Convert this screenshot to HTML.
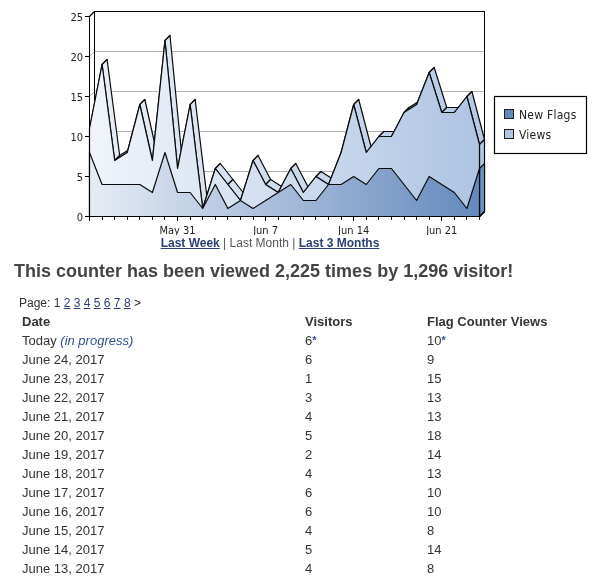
<!DOCTYPE html>
<html><head><meta charset="utf-8"><title>Flag Counter</title>
<style>
html,body{margin:0;padding:0;background:#fff;}
body{width:609px;height:576px;overflow:hidden;position:relative;font-family:"Liberation Sans",Arial,sans-serif;color:#333;}
a{color:#2b3f73;}
.links{position:absolute;left:0;top:236px;width:540px;text-align:center;font-size:12px;line-height:14px;color:#555;white-space:nowrap;}
.links a{font-weight:bold;text-decoration:underline;}
h2{position:absolute;left:14px;top:261px;margin:0;font-size:18px;line-height:20px;font-weight:bold;color:#444;white-space:nowrap;}
.pages{position:absolute;left:19px;top:296px;font-size:12px;line-height:14px;color:#333;white-space:nowrap;}
.row{position:absolute;left:0;width:609px;height:19px;font-size:13px;line-height:19px;color:#333;white-space:nowrap;}
.row span{position:absolute;top:0;}
.row.hd{font-weight:bold;}
.c1{left:22px}.c2{left:305px}.c3{left:427px}
.row i{color:#33508f;}
sup{font-size:11px;font-weight:bold;line-height:0;vertical-align:1px;color:#2f4d8f;}
</style></head><body>
<svg width="609" height="235" viewBox="0 0 609 235" style="position:absolute;left:0;top:0">
<defs>
<linearGradient id="gv" gradientUnits="userSpaceOnUse" x1="89" y1="0" x2="480" y2="0"><stop offset="0" stop-color="#f1f5fb"/><stop offset="1" stop-color="#aec4e3"/></linearGradient>
<linearGradient id="gf" gradientUnits="userSpaceOnUse" x1="89" y1="0" x2="480" y2="0"><stop offset="0" stop-color="#e6ecf5"/><stop offset="1" stop-color="#6489bd"/></linearGradient>
<linearGradient id="gvt" gradientUnits="userSpaceOnUse" x1="89" y1="0" x2="480" y2="0"><stop offset="0" stop-color="#e9eff8"/><stop offset="1" stop-color="#b4c9e6"/></linearGradient>
</defs>
<g fill="none" stroke="#b4b4b4" stroke-width="1">
<path d="M89.5 176.5 l5 -5 H484.5"/>
<path d="M89.5 136.5 l5 -5 H484.5"/>
<path d="M89.5 96.5 l5 -5 H484.5"/>
<path d="M89.5 56.5 l5 -5 H484.5"/>
</g>
<path d="M94 11.5 H484.5 V211.5 M94.5 11.5 V211.5" fill="none" stroke="#000" stroke-width="1" shape-rendering="crispEdges"/>
<path d="M89.5 16.5 l5 -5" fill="none" stroke="#000" stroke-width="1.2"/>
<g stroke="#0a0a0a" stroke-width="1.2" stroke-linejoin="round">
<path d="M89.5 128.5 L102.08 64.5 L107.08 59.5 L94.5 123.5Z" fill="url(#gvt)"/>
<path d="M102.08 64.5 L114.66 160.5 L119.66 155.5 L107.08 59.5Z" fill="url(#gvt)"/>
<path d="M114.66 160.5 L127.24 152.5 L132.24 147.5 L119.66 155.5Z" fill="url(#gvt)"/>
<path d="M127.24 152.5 L139.82 104.5 L144.82 99.5 L132.24 147.5Z" fill="url(#gvt)"/>
<path d="M139.82 104.5 L152.4 160.5 L157.4 155.5 L144.82 99.5Z" fill="url(#gvt)"/>
<path d="M152.4 160.5 L164.98 40.5 L169.98 35.5 L157.4 155.5Z" fill="url(#gvt)"/>
<path d="M164.98 40.5 L177.56 168.5 L182.56 163.5 L169.98 35.5Z" fill="url(#gvt)"/>
<path d="M177.56 168.5 L190.15 104.5 L195.15 99.5 L182.56 163.5Z" fill="url(#gvt)"/>
<path d="M190.15 104.5 L202.73 208.5 L207.73 203.5 L195.15 99.5Z" fill="url(#gvt)"/>
<path d="M202.73 208.5 L215.31 168.5 L220.31 163.5 L207.73 203.5Z" fill="url(#gvt)"/>
<path d="M215.31 168.5 L227.89 184.5 L232.89 179.5 L220.31 163.5Z" fill="url(#gvt)"/>
<path d="M227.89 184.5 L240.47 200.5 L245.47 195.5 L232.89 179.5Z" fill="url(#gvt)"/>
<path d="M240.47 200.5 L253.05 160.5 L258.05 155.5 L245.47 195.5Z" fill="url(#gvt)"/>
<path d="M253.05 160.5 L265.63 184.5 L270.63 179.5 L258.05 155.5Z" fill="url(#gvt)"/>
<path d="M265.63 184.5 L278.21 192.5 L283.21 187.5 L270.63 179.5Z" fill="url(#gvt)"/>
<path d="M278.21 192.5 L290.79 168.5 L295.79 163.5 L283.21 187.5Z" fill="url(#gvt)"/>
<path d="M290.79 168.5 L303.37 192.5 L308.37 187.5 L295.79 163.5Z" fill="url(#gvt)"/>
<path d="M303.37 192.5 L315.95 176.5 L320.95 171.5 L308.37 187.5Z" fill="url(#gvt)"/>
<path d="M315.95 176.5 L328.53 184.5 L333.53 179.5 L320.95 171.5Z" fill="url(#gvt)"/>
<path d="M328.53 184.5 L341.11 152.5 L346.11 147.5 L333.53 179.5Z" fill="url(#gvt)"/>
<path d="M341.11 152.5 L353.69 104.5 L358.69 99.5 L346.11 147.5Z" fill="url(#gvt)"/>
<path d="M353.69 104.5 L366.27 152.5 L371.27 147.5 L358.69 99.5Z" fill="url(#gvt)"/>
<path d="M366.27 152.5 L378.85 136.5 L383.85 131.5 L371.27 147.5Z" fill="url(#gvt)"/>
<path d="M378.85 136.5 L391.44 136.5 L396.44 131.5 L383.85 131.5Z" fill="url(#gvt)"/>
<path d="M391.44 136.5 L404.02 112.5 L409.02 107.5 L396.44 131.5Z" fill="url(#gvt)"/>
<path d="M404.02 112.5 L416.6 104.5 L421.6 99.5 L409.02 107.5Z" fill="url(#gvt)"/>
<path d="M416.6 104.5 L429.18 72.5 L434.18 67.5 L421.6 99.5Z" fill="url(#gvt)"/>
<path d="M429.18 72.5 L441.76 112.5 L446.76 107.5 L434.18 67.5Z" fill="url(#gvt)"/>
<path d="M441.76 112.5 L454.34 112.5 L459.34 107.5 L446.76 107.5Z" fill="url(#gvt)"/>
<path d="M454.34 112.5 L466.92 96.5 L471.92 91.5 L459.34 107.5Z" fill="url(#gvt)"/>
<path d="M466.92 96.5 L479.5 144.5 L484.5 139.5 L471.92 91.5Z" fill="url(#gvt)"/>
<path d="M479.5 216.5 L479.5 144.5 L484.5 139.5 L484.5 211.5Z" fill="#b4c9e6"/>
<path d="M479.5 216.5 L479.5 168.5 L484.5 163.5 L484.5 211.5Z" fill="#6f92c4"/>
<path d="M89.5 216.5 L89.5 128.5 L102.08 64.5 L114.66 160.5 L127.24 152.5 L139.82 104.5 L152.4 160.5 L164.98 40.5 L177.56 168.5 L190.15 104.5 L202.73 208.5 L215.31 168.5 L227.89 184.5 L240.47 200.5 L253.05 160.5 L265.63 184.5 L278.21 192.5 L290.79 168.5 L303.37 192.5 L315.95 176.5 L328.53 184.5 L341.11 152.5 L353.69 104.5 L366.27 152.5 L378.85 136.5 L391.44 136.5 L404.02 112.5 L416.6 104.5 L429.18 72.5 L441.76 112.5 L454.34 112.5 L466.92 96.5 L479.5 144.5 L479.5 216.5Z" fill="url(#gv)"/>
<path d="M89.5 216.5 L89.5 152.5 L102.08 184.5 L114.66 184.5 L127.24 184.5 L139.82 184.5 L152.4 192.5 L164.98 152.5 L177.56 192.5 L190.15 192.5 L202.73 208.5 L215.31 184.5 L227.89 208.5 L240.47 200.5 L253.05 208.5 L265.63 200.5 L278.21 192.5 L290.79 184.5 L303.37 200.5 L315.95 200.5 L328.53 184.5 L341.11 184.5 L353.69 176.5 L366.27 184.5 L378.85 168.5 L391.44 168.5 L404.02 184.5 L416.6 200.5 L429.18 176.5 L441.76 184.5 L454.34 192.5 L466.92 208.5 L479.5 168.5 L479.5 216.5Z" fill="url(#gf)"/>
</g>
<g stroke="#000" stroke-width="1" fill="none" shape-rendering="crispEdges">
<path d="M89.5 16 V221"/>
<path d="M85 216.5 H480"/>
<path d="M85 176.5 H89.5"/>
<path d="M85 136.5 H89.5"/>
<path d="M85 96.5 H89.5"/>
<path d="M85 56.5 H89.5"/>
<path d="M85 16.5 H89.5"/>
<path d="M102.5 216.5 v3.5M114.5 216.5 v3.5M127.5 216.5 v3.5M139.5 216.5 v3.5M152.5 216.5 v3.5M164.5 216.5 v3.5M177.5 216.5 v4.5M190.5 216.5 v3.5M202.5 216.5 v3.5M215.5 216.5 v3.5M227.5 216.5 v3.5M240.5 216.5 v3.5M253.5 216.5 v3.5M265.5 216.5 v4.5M278.5 216.5 v3.5M290.5 216.5 v3.5M303.5 216.5 v3.5M315.5 216.5 v3.5M328.5 216.5 v3.5M341.5 216.5 v3.5M353.5 216.5 v4.5M366.5 216.5 v3.5M378.5 216.5 v3.5M391.5 216.5 v3.5M404.5 216.5 v3.5M416.5 216.5 v3.5M429.5 216.5 v3.5M441.5 216.5 v4.5M454.5 216.5 v3.5M466.5 216.5 v3.5M479.5 216.5 v3.5"/>
</g>
<path d="M479.5 216.5 l5 -5" stroke="#000" stroke-width="1.2" fill="none"/>
<g font-family="'DejaVu Sans Condensed','DejaVu Sans',sans-serif" font-size="11" fill="#222">
<text x="83" y="220.5" text-anchor="end">0</text>
<text x="83" y="180.5" text-anchor="end">5</text>
<text x="83" y="140.5" text-anchor="end">10</text>
<text x="83" y="100.5" text-anchor="end">15</text>
<text x="83" y="60.5" text-anchor="end">20</text>
<text x="83" y="20.5" text-anchor="end">25</text>
<text x="177.56" y="234" text-anchor="middle">May 31</text>
<text x="265.63" y="234" text-anchor="middle">Jun 7</text>
<text x="353.69" y="234" text-anchor="middle">Jun 14</text>
<text x="441.76" y="234" text-anchor="middle">Jun 21</text>
</g>
<rect x="494.5" y="96.5" width="92" height="57" fill="#fff" stroke="#000" stroke-width="1.2"/>
<rect x="504.5" y="109.5" width="9" height="9" fill="#6489bd" stroke="#1e1e1e" stroke-width="1"/>
<rect x="504.5" y="129.5" width="9" height="9" fill="#aec4e3" stroke="#1e1e1e" stroke-width="1"/>
<g font-family="'DejaVu Sans Condensed','DejaVu Sans',sans-serif" font-size="12" letter-spacing="0.25" fill="#222">
<text x="519" y="118.5">New Flags</text><text x="519" y="138.5">Views</text>
</g>
</svg>
<div class="links"><a>Last Week</a> | Last Month | <a>Last 3 Months</a></div>
<h2>This counter has been viewed 2,225 times by 1,296 visitor!</h2>
<div class="pages">Page: 1 <a><u>2</u></a> <a><u>3</u></a> <a><u>4</u></a> <a><u>5</u></a> <a><u>6</u></a> <a><u>7</u></a> <a><u>8</u></a> <span style="color:#222">&gt;</span></div>
<div class="row hd" style="top:312px"><span class="c1">Date</span><span class="c2">Visitors</span><span class="c3">Flag Counter Views</span></div>
<div class="row" style="top:331px"><span class="c1">Today <i>(in progress)</i></span><span class="c2">6<sup>*</sup></span><span class="c3">10<sup>*</sup></span></div>
<div class="row" style="top:350px"><span class="c1">June 24, 2017</span><span class="c2">6</span><span class="c3">9</span></div>
<div class="row" style="top:369px"><span class="c1">June 23, 2017</span><span class="c2">1</span><span class="c3">15</span></div>
<div class="row" style="top:388px"><span class="c1">June 22, 2017</span><span class="c2">3</span><span class="c3">13</span></div>
<div class="row" style="top:407px"><span class="c1">June 21, 2017</span><span class="c2">4</span><span class="c3">13</span></div>
<div class="row" style="top:426px"><span class="c1">June 20, 2017</span><span class="c2">5</span><span class="c3">18</span></div>
<div class="row" style="top:445px"><span class="c1">June 19, 2017</span><span class="c2">2</span><span class="c3">14</span></div>
<div class="row" style="top:464px"><span class="c1">June 18, 2017</span><span class="c2">4</span><span class="c3">13</span></div>
<div class="row" style="top:483px"><span class="c1">June 17, 2017</span><span class="c2">6</span><span class="c3">10</span></div>
<div class="row" style="top:502px"><span class="c1">June 16, 2017</span><span class="c2">6</span><span class="c3">10</span></div>
<div class="row" style="top:521px"><span class="c1">June 15, 2017</span><span class="c2">4</span><span class="c3">8</span></div>
<div class="row" style="top:540px"><span class="c1">June 14, 2017</span><span class="c2">5</span><span class="c3">14</span></div>
<div class="row" style="top:559px"><span class="c1">June 13, 2017</span><span class="c2">4</span><span class="c3">8</span></div>
</body></html>
